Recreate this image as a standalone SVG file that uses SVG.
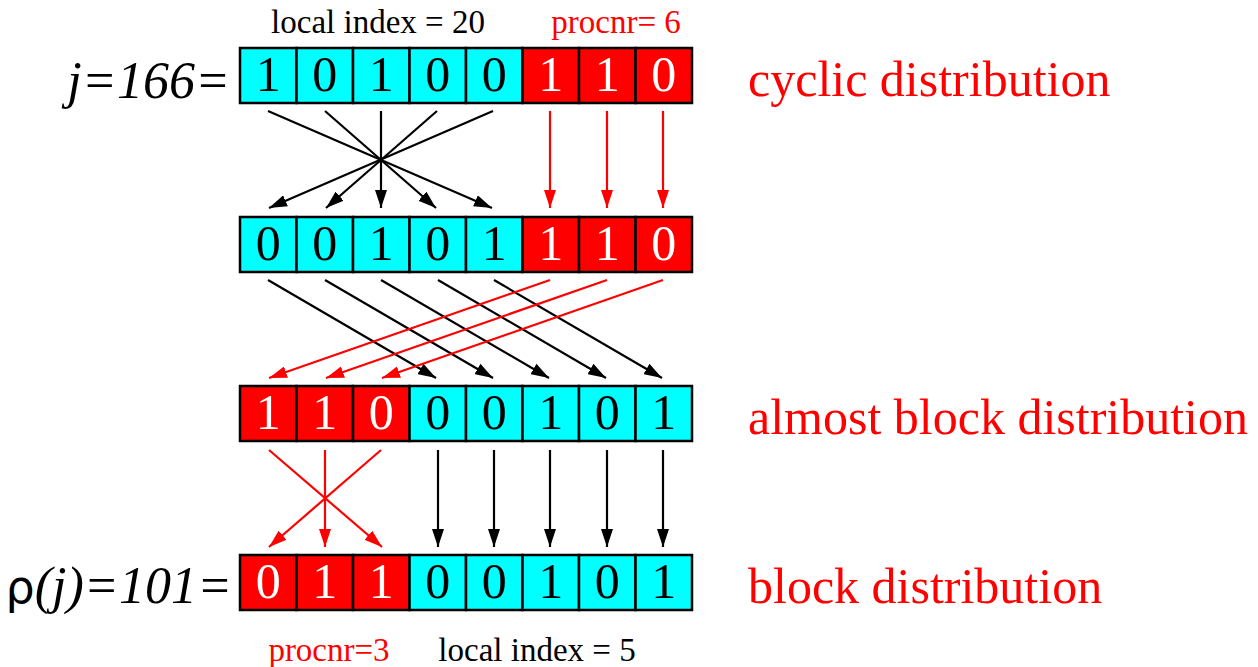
<svg xmlns="http://www.w3.org/2000/svg" width="1258" height="667" viewBox="0 0 1258 667">
<defs>
<marker id="ab" markerWidth="18" markerHeight="12" viewBox="0 0 18 12" refX="18" refY="6" orient="auto" markerUnits="userSpaceOnUse"><path d="M0,0 L18,6 L0,12 Z" fill="#000"/></marker>
<marker id="ar" markerWidth="18" markerHeight="12" viewBox="0 0 18 12" refX="18" refY="6" orient="auto" markerUnits="userSpaceOnUse"><path d="M0,0 L18,6 L0,12 Z" fill="#f00"/></marker>
</defs>
<style>
.c{fill:#00ffff;stroke:#000;stroke-width:2.5}
.r{fill:#ff0000;stroke:#000;stroke-width:2.5}
.d{font-family:"Liberation Serif",serif;font-size:50px;text-anchor:middle;fill:#000}
.w{fill:#fff}
.lab{font-family:"Liberation Serif",serif;font-size:33px}
.big{font-family:"Liberation Serif",serif;font-size:50px;fill:#f00}
.eq{font-family:"Liberation Serif",serif;font-size:52px;font-style:italic}
.kb{stroke:#000;stroke-width:2.2;fill:none;marker-end:url(#ab)}
.kr{stroke:#f00;stroke-width:2.2;fill:none;marker-end:url(#ar)}
</style>
<rect width="1258" height="667" fill="#fff"/>

<g id="labels">
<text class="lab" x="378" y="33" text-anchor="middle">local index = 20</text>
<text class="lab" x="616" y="33" text-anchor="middle" fill="#f00">procnr= 6</text>
<text class="eq" x="230" y="98" text-anchor="end">j=166=</text>
<text class="big" x="748" y="96">cyclic distribution</text>
<text class="big" x="748" y="434">almost block distribution</text>
<text class="big" x="748" y="603">block distribution</text>
<text x="232" y="603" text-anchor="end"><tspan font-family="DejaVu Sans, sans-serif" font-size="46">ρ</tspan><tspan class="eq">(j)=101=</tspan></text>
<text class="lab" x="329" y="661" text-anchor="middle" fill="#f00">procnr=3</text>
<text class="lab" x="537" y="661" text-anchor="middle">local index = 5</text>
</g>

<g id="row1">
<rect class="c" x="240" y="48" width="56.5" height="55"/>
<rect class="c" x="296.5" y="48" width="56.5" height="55"/>
<rect class="c" x="353" y="48" width="56.5" height="55"/>
<rect class="c" x="409.5" y="48" width="56.5" height="55"/>
<rect class="c" x="466" y="48" width="56.5" height="55"/>
<rect class="r" x="522.5" y="48" width="56.5" height="55"/>
<rect class="r" x="579" y="48" width="56.5" height="55"/>
<rect class="r" x="635.5" y="48" width="56.5" height="55"/>
<text class="d" x="268.25" y="91">1</text>
<text class="d" x="324.75" y="91">0</text>
<text class="d" x="381.25" y="91">1</text>
<text class="d" x="437.75" y="91">0</text>
<text class="d" x="494.25" y="91">0</text>
<text class="d w" x="550.75" y="91">1</text>
<text class="d w" x="607.25" y="91">1</text>
<text class="d w" x="663.75" y="91">0</text>
</g>

<g id="row2">
<rect class="c" x="240" y="217" width="56.5" height="55"/>
<rect class="c" x="296.5" y="217" width="56.5" height="55"/>
<rect class="c" x="353" y="217" width="56.5" height="55"/>
<rect class="c" x="409.5" y="217" width="56.5" height="55"/>
<rect class="c" x="466" y="217" width="56.5" height="55"/>
<rect class="r" x="522.5" y="217" width="56.5" height="55"/>
<rect class="r" x="579" y="217" width="56.5" height="55"/>
<rect class="r" x="635.5" y="217" width="56.5" height="55"/>
<text class="d" x="268.25" y="260">0</text>
<text class="d" x="324.75" y="260">0</text>
<text class="d" x="381.25" y="260">1</text>
<text class="d" x="437.75" y="260">0</text>
<text class="d" x="494.25" y="260">1</text>
<text class="d w" x="550.75" y="260">1</text>
<text class="d w" x="607.25" y="260">1</text>
<text class="d w" x="663.75" y="260">0</text>
</g>

<g id="row3">
<rect class="r" x="240" y="386" width="56.5" height="55"/>
<rect class="r" x="296.5" y="386" width="56.5" height="55"/>
<rect class="r" x="353" y="386" width="56.5" height="55"/>
<rect class="c" x="409.5" y="386" width="56.5" height="55"/>
<rect class="c" x="466" y="386" width="56.5" height="55"/>
<rect class="c" x="522.5" y="386" width="56.5" height="55"/>
<rect class="c" x="579" y="386" width="56.5" height="55"/>
<rect class="c" x="635.5" y="386" width="56.5" height="55"/>
<text class="d w" x="268.25" y="429">1</text>
<text class="d w" x="324.75" y="429">1</text>
<text class="d w" x="381.25" y="429">0</text>
<text class="d" x="437.75" y="429">0</text>
<text class="d" x="494.25" y="429">0</text>
<text class="d" x="550.75" y="429">1</text>
<text class="d" x="607.25" y="429">0</text>
<text class="d" x="663.75" y="429">1</text>
</g>

<g id="row4">
<rect class="r" x="240" y="555" width="56.5" height="55"/>
<rect class="r" x="296.5" y="555" width="56.5" height="55"/>
<rect class="r" x="353" y="555" width="56.5" height="55"/>
<rect class="c" x="409.5" y="555" width="56.5" height="55"/>
<rect class="c" x="466" y="555" width="56.5" height="55"/>
<rect class="c" x="522.5" y="555" width="56.5" height="55"/>
<rect class="c" x="579" y="555" width="56.5" height="55"/>
<rect class="c" x="635.5" y="555" width="56.5" height="55"/>
<text class="d w" x="268.25" y="598">0</text>
<text class="d w" x="324.75" y="598">1</text>
<text class="d w" x="381.25" y="598">1</text>
<text class="d" x="437.75" y="598">0</text>
<text class="d" x="494.25" y="598">0</text>
<text class="d" x="550.75" y="598">1</text>
<text class="d" x="607.25" y="598">0</text>
<text class="d" x="663.75" y="598">1</text>
</g>

<g id="connectors">
<line class="kb" x1="268" y1="111" x2="492" y2="208"/>
<line class="kb" x1="325" y1="111" x2="436" y2="208"/>
<line class="kb" x1="381" y1="111" x2="381" y2="208"/>
<line class="kb" x1="437" y1="111" x2="326" y2="208"/>
<line class="kb" x1="493" y1="111" x2="269" y2="208"/>
<line class="kr" x1="550" y1="111" x2="550" y2="208"/>
<line class="kr" x1="607" y1="111" x2="607" y2="208"/>
<line class="kr" x1="663" y1="111" x2="663" y2="208"/>

<line class="kb" x1="268" y1="280" x2="436" y2="378"/>
<line class="kb" x1="325" y1="280" x2="493" y2="378"/>
<line class="kb" x1="381" y1="280" x2="549" y2="378"/>
<line class="kb" x1="438" y1="280" x2="606" y2="378"/>
<line class="kb" x1="494" y1="280" x2="662" y2="378"/>
<line class="kr" x1="550" y1="280" x2="269" y2="378"/>
<line class="kr" x1="607" y1="280" x2="326" y2="378"/>
<line class="kr" x1="663" y1="280" x2="382" y2="378"/>

<line class="kr" x1="269" y1="450" x2="382" y2="547"/>
<line class="kr" x1="325" y1="450" x2="325" y2="547"/>
<line class="kr" x1="381" y1="450" x2="269" y2="547"/>
<line class="kb" x1="438" y1="450" x2="438" y2="547"/>
<line class="kb" x1="494" y1="450" x2="494" y2="547"/>
<line class="kb" x1="550" y1="450" x2="550" y2="547"/>
<line class="kb" x1="607" y1="450" x2="607" y2="547"/>
<line class="kb" x1="663" y1="450" x2="663" y2="547"/>
</g>
</svg>
